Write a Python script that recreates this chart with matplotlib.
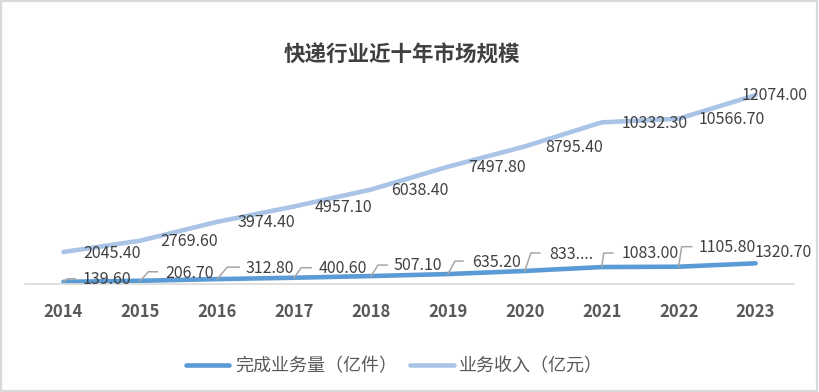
import matplotlib
matplotlib.use('Agg')
import matplotlib.pyplot as plt
from matplotlib.patches import Rectangle

plt.rcParams['font.family'] = ['Noto Sans CJK SC', 'DejaVu Sans']

# data
years = ['2014', '2015', '2016', '2017', '2018', '2019', '2020', '2021', '2022', '2023']
volume = [139.6, 206.7, 312.8, 400.6, 507.1, 635.2, 833.6, 1083.0, 1105.8, 1320.7]   # 亿件
revenue = [2045.4, 2769.6, 3974.4, 4957.1, 6038.4, 7497.8, 8795.4, 10332.3, 10566.7, 12074.0]  # 亿元
volume_text = ['%.2f' % v for v in volume]
volume_text[6] = '833....'   # truncated in the original chart
revenue_text = ['%.2f' % v for v in revenue]

# label placement (pixels): label offset, leader corner offset, leader end x
vol_lab = [(19, 2), (25, 7), (28, 11), (24, 9), (22, 11), (24, 12), (24, 16), (20, 14), (20, 19), (-1, 11)]
vol_lead = [(4, 3, 12), (8, 9, 17), (10, 12, 22), (7, 10, 17), (7, 11, 16), (7, 13, 15), (6, 18, 15), (2, 14, 11), (3, 20, 13), None]
rev_lab = [(20, -1)] * 9 + [(-14, 0)]

c_vol = '#5B9BD5'
c_rev = '#A9C4E7'
txt = '#404040'

fig = plt.figure(figsize=(8.19, 3.92), dpi=100)
ax = fig.add_axes([25 / 819, 108 / 392, 769 / 819, 219 / 392])

x = list(range(len(years)))
ax.plot(x, volume, color=c_vol, lw=3.3, solid_capstyle='round', solid_joinstyle='round', label='完成业务量（亿件）')
ax.plot(x, revenue, color=c_rev, lw=3.3, solid_capstyle='round', solid_joinstyle='round', label='业务收入（亿元）')

ax.set_xlim(-0.5, len(years) - 0.5)
ax.set_ylim(0, 14000)
ax.set_xticks(x)
ax.set_xticklabels(years, fontsize=12, fontweight='bold', color='#595959')
ax.tick_params(axis='x', length=0, pad=14)
ax.set_yticks([])
for s in ['top', 'left', 'right']:
    ax.spines[s].set_visible(False)
ax.spines['bottom'].set_color('#d9d9d9')
ax.spines['bottom'].set_linewidth(1.2)

# data labels
for i in x:
    dx, dy = rev_lab[i]
    ax.annotate(revenue_text[i], (i, revenue[i]), xytext=(dx, dy), textcoords='offset pixels',
                ha='left', va='center', fontsize=11.5, color=txt)
    dx, dy = vol_lab[i]
    ax.annotate(volume_text[i], (i, volume[i]), xytext=(dx, dy), textcoords='offset pixels',
                ha='left', va='center', fontsize=11.5, color=txt)
    if vol_lead[i] is not None:
        cx, cy, ex = vol_lead[i]
        px, py = ax.transData.transform((i, volume[i]))
        pts = [(px, py), (px + cx, py + cy), (px + ex, py + cy)]
        pts = ax.transData.inverted().transform(pts)
        ax.plot(pts[:, 0], pts[:, 1], color='#a6a6a6', lw=1.1, clip_on=False)

fig.text(402 / 819, 1 - 55 / 392, '快递行业近十年市场规模', ha='center', va='center',
         fontsize=15.5, fontweight='bold', color=txt)

fig.legend(loc='center', bbox_to_anchor=(394.5 / 819, 26 / 392), ncol=2, frameon=False,
           fontsize=13, labelcolor='#595959', handlelength=2.4, handletextpad=0.3, columnspacing=0.75)

fig.patches.append(Rectangle((0.001, 0.002), 0.997, 0.996, transform=fig.transFigure,
                             fill=False, edgecolor='#d9d9d9', lw=1.6))

fig.savefig('out.png', dpi=100)
